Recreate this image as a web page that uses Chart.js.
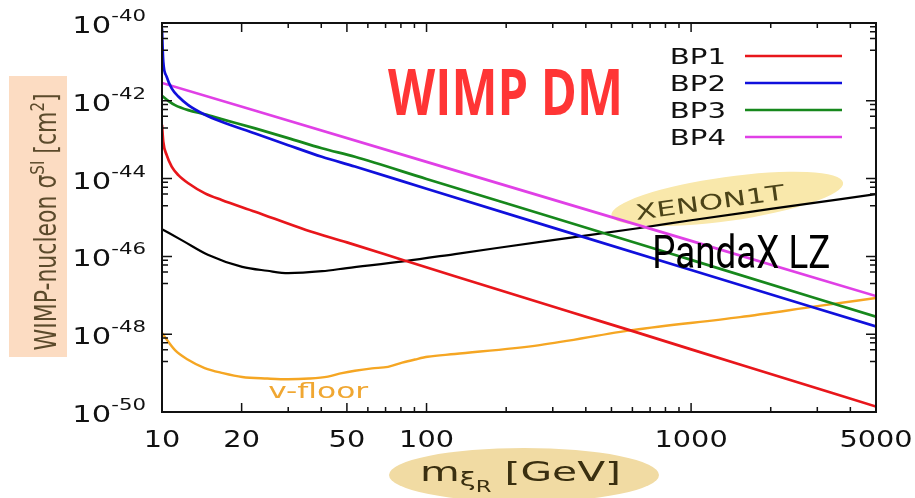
<!DOCTYPE html>
<html>
<head>
<meta charset="utf-8">
<script src="https://cdn.jsdelivr.net/npm/chart.js@4.4.1/dist/chart.umd.min.js"></script>
<style>
    html, body { margin: 0; padding: 0; background: #fff; }
</style>
</head>
<body>
<canvas id="limitChart" width="915" height="498"></canvas>
<script>
// WIMP mass in GeV, spin-independent cross section in cm^2
const bp1Mass = [10, 10.11, 10.41, 10.88, 11.53, 12.57, 14.54, 16.8, 22.5, 35, 50, 83, 128, 350, 606, 1530, 5000];
const bp1Sigma = [2.40e-43, 8.91e-44, 4.07e-44, 2.04e-44, 1.23e-44, 7.59e-45, 4.17e-45, 2.82e-45, 1.41e-45, 4.79e-46, 2.29e-46, 7.76e-47, 3.09e-47, 3.72e-48, 1.18e-48, 1.66e-49, 1.38e-50];

const bp2Mass = [10, 10.05, 10.11, 10.41, 10.88, 11.53, 12.57, 14.54, 16.8, 22.5, 30, 40.2, 53.6, 100, 300, 1000, 5000];
const bp2Sigma = [7.24e-41, 2.51e-41, 1.02e-41, 4.17e-42, 2.09e-42, 1.29e-42, 7.76e-43, 4.37e-43, 2.88e-43, 1.45e-43, 7.24e-44, 3.63e-44, 2.04e-44, 5.50e-45, 5.50e-46, 4.47e-47, 1.58e-48];

const bp3Mass = [10, 10.56, 11.2, 12.57, 14.54, 16.8, 22.5, 30, 40.2, 53.6, 100, 300, 1000, 5000];
const bp3Sigma = [1.35e-42, 1.00e-42, 7.76e-43, 5.75e-43, 4.47e-43, 3.39e-43, 1.95e-43, 1.10e-43, 6.03e-44, 3.63e-44, 9.77e-45, 1.00e-45, 8.13e-47, 2.82e-48];

const bp4Mass = [10, 100, 1000, 5000];
const bp4Sigma = [2.88e-42, 2.69e-44, 2.51e-46, 9.55e-48];

const xenonMass = [10, 12, 14.9, 20.1, 25, 30, 40.3, 50, 83, 128, 300, 640, 1000, 2000, 5000];
const xenonSigma = [5.01e-46, 2.51e-46, 1.10e-46, 5.37e-47, 4.27e-47, 3.72e-47, 4.17e-47, 5.01e-47, 7.59e-47, 1.15e-46, 2.63e-46, 5.37e-46, 8.51e-46, 1.66e-45, 3.98e-45];

const floorMass = [10, 11.2, 12.5, 14.5, 17, 20.1, 25, 30, 36, 42.4, 47.9, 53.6, 62.2, 71.5, 80.9, 90.5, 101, 128, 268, 606, 1530, 3000, 5000];
const floorSigma = [1.07e-48, 3.89e-49, 2.24e-49, 1.35e-49, 1.00e-49, 7.94e-50, 7.24e-50, 6.92e-50, 7.24e-50, 8.13e-50, 1.00e-49, 1.15e-49, 1.32e-49, 1.45e-49, 1.86e-49, 2.24e-49, 2.63e-49, 3.09e-49, 5.25e-49, 1.29e-48, 2.75e-48, 5.25e-48, 8.51e-48];

const legendNames = ["BP1", "BP2", "BP3", "BP4"];
const xTickValues = [10, 20, 50, 100, 1000, 5000];
const xTickLabels = ["10", "20", "50", "100", "1000", "5000"];
const xMinorTicks = [30, 40, 60, 70, 80, 90, 200, 300, 400, 500, 600, 700, 800, 900, 2000, 3000, 4000];
const yTickExponents = [-40, -42, -44, -46, -48, -50];
const yMinorFactors = [2, 4, 6, 8];

const lineColors = ["#e8161b", "#1010dc", "#17881c", "#e040e6"];
const gnuFont = "'DejaVu Sans'";
const stretch = 1.33; // reference picture is widened horizontally

function toPoints(mass, sigma) {
    return mass.map((m, i) => ({ x: m, y: sigma[i] }));
}

function makeSet(label, mass, sigma, color, width) {
    return {
        label: label,
        data: toPoints(mass, sigma),
        borderColor: color,
        backgroundColor: color,
        borderWidth: width,
        pointRadius: 0,
        fill: false,
        cubicInterpolationMode: "monotone",
    };
}

// draws text squeezed or widened along x, returns drawn width
function wideText(ctx, text, x, y, sx, align) {
    const w = ctx.measureText(text).width * sx;
    let left = x;
    if (align === "right") left = x - w;
    if (align === "center") left = x - w / 2;
    ctx.save();
    ctx.translate(left, y);
    ctx.scale(sx, 1);
    ctx.textAlign = "left";
    ctx.fillText(text, 0, 0);
    ctx.restore();
    return w;
}

function fitText(ctx, text, x, y, width) {
    const sx = width / ctx.measureText(text).width;
    return wideText(ctx, text, x, y, sx, "left");
}

const decorations = {
    id: "decorations",
    beforeDatasetsDraw(chart) {
        const ctx = chart.ctx;
        const xs = chart.scales.x, ys = chart.scales.y;
        ctx.save();
        // y title box
        ctx.fillStyle = "#fcdcc2";
        ctx.fillRect(9, 76, 58, 281);
        // x title ellipse
        ctx.fillStyle = "#f1dba3";
        ctx.beginPath();
        ctx.ellipse(524, 475, 135, 27, 0, 0, Math.PI * 2);
        ctx.fill();
        // XENON1T highlight
        ctx.fillStyle = "#f9e8ab";
        ctx.beginPath();
        ctx.ellipse(xs.getPixelForValue(1370), ys.getPixelForValue(3.0e-45), 117, 22, -8 * Math.PI / 180, 0, Math.PI * 2);
        ctx.fill();
        ctx.restore();
    },
    afterDatasetsDraw(chart) {
        const ctx = chart.ctx;
        const area = chart.chartArea;
        const xs = chart.scales.x, ys = chart.scales.y;
        ctx.save();

        // frame
        ctx.strokeStyle = "#111";
        ctx.lineWidth = 2;
        ctx.strokeRect(area.left, area.top, area.right - area.left, area.bottom - area.top);

        // ticks
        ctx.lineWidth = 1.5;
        ctx.beginPath();
        const xTick = (v, len) => {
            const px = xs.getPixelForValue(v);
            ctx.moveTo(px, area.bottom); ctx.lineTo(px, area.bottom - len);
            ctx.moveTo(px, area.top); ctx.lineTo(px, area.top + len);
        };
        const yTick = (v, len) => {
            const py = ys.getPixelForValue(v);
            ctx.moveTo(area.left, py); ctx.lineTo(area.left + len, py);
            ctx.moveTo(area.right, py); ctx.lineTo(area.right - len, py);
        };
        xTickValues.forEach(v => xTick(v, 9));
        xMinorTicks.forEach(v => xTick(v, 5));
        yTickExponents.forEach(e => {
            yTick(Math.pow(10, e), 10);
            if (e > -50) yMinorFactors.forEach(f => yTick(f * Math.pow(10, e - 1), 6));
        });
        ctx.stroke();

        // tick labels
        ctx.fillStyle = "#111";
        ctx.textBaseline = "alphabetic";
        ctx.font = "23px " + gnuFont;
        xTickValues.forEach((v, i) => {
            wideText(ctx, xTickLabels[i], xs.getPixelForValue(v), 447, 1.25, "center");
        });
        yTickExponents.forEach(e => {
            const py = ys.getPixelForValue(Math.pow(10, e));
            const exp = "-" + Math.abs(e);
            ctx.font = "16px " + gnuFont;
            const wExp = ctx.measureText(exp).width * stretch;
            ctx.font = "23px " + gnuFont;
            const wBase = ctx.measureText("10").width * stretch;
            const right = area.left - 16;
            wideText(ctx, "10", right - wExp - wBase, py + 10, stretch, "left");
            ctx.font = "16px " + gnuFont;
            wideText(ctx, exp, right - wExp, py - 2, stretch, "left");
        });

        // legend
        ctx.font = "22px " + gnuFont;
        legendNames.forEach((name, i) => {
            const rowY = 56 + i * 27;
            ctx.fillStyle = "#111";
            wideText(ctx, name, 726, rowY + 8, stretch, "right");
            ctx.strokeStyle = lineColors[i];
            ctx.lineWidth = 2.5;
            ctx.beginPath();
            ctx.moveTo(745, rowY);
            ctx.lineTo(842, rowY);
            ctx.stroke();
        });

        // y axis title, rotated, with superscripts
        ctx.save();
        ctx.fillStyle = "#5b4a2b";
        ctx.translate(56, 222);
        ctx.rotate(-Math.PI / 2);
        ctx.scale(1, stretch);
        const parts = [
            { t: "WIMP-nucleon \u03c3", s: 22, dy: 0 },
            { t: "SI", s: 15, dy: -9 },
            { t: " [cm", s: 22, dy: 0 },
            { t: "2", s: 15, dy: -9 },
            { t: "]", s: 22, dy: 0 },
        ];
        let total = 0;
        parts.forEach(p => { ctx.font = p.s + "px " + gnuFont; p.w = ctx.measureText(p.t).width; total += p.w; });
        let cx = -total / 2;
        ctx.textAlign = "left";
        parts.forEach(p => { ctx.font = p.s + "px " + gnuFont; ctx.fillText(p.t, cx, p.dy); cx += p.w; });
        ctx.restore();

        // x axis title with nested subscripts
        ctx.save();
        ctx.fillStyle = "#3a2f10";
        const xparts = [
            { t: "m", s: 27, dy: 0 },
            { t: "\u03be", s: 19, dy: 5 },
            { t: "R", s: 15, dy: 11 },
            { t: " [GeV]", s: 27, dy: 0 },
        ];
        let xtotal = 0;
        xparts.forEach(p => { ctx.font = p.s + "px " + gnuFont; p.w = ctx.measureText(p.t).width; xtotal += p.w; });
        const xsx = 201 / xtotal;
        let px = 420;
        xparts.forEach(p => { ctx.font = p.s + "px " + gnuFont; wideText(ctx, p.t, px, 481 + p.dy, xsx, "left"); px += p.w * xsx; });
        ctx.restore();

        // curve labels
        ctx.fillStyle = "#f0a732";
        ctx.font = "21px " + gnuFont;
        fitText(ctx, "v-floor", xs.getPixelForValue(25.2), ys.getPixelForValue(2.3e-50), 100);

        ctx.save();
        ctx.fillStyle = "#4b4318";
        ctx.font = "21px " + gnuFont;
        ctx.translate(xs.getPixelForValue(1180), ys.getPixelForValue(2.2e-45));
        ctx.rotate(-8 * Math.PI / 180);
        const xw = ctx.measureText("XENON1T").width;
        ctx.scale(150 / xw, 1);
        ctx.textAlign = "center";
        ctx.textBaseline = "middle";
        ctx.fillText("XENON1T", 0, 0);
        ctx.restore();

        ctx.fillStyle = "#000";
        ctx.font = "46px Roboto";
        fitText(ctx, "PandaX LZ", xs.getPixelForValue(713), ys.getPixelForValue(5.0e-47), 178);

        ctx.fillStyle = "#ff3535";
        ctx.font = "bold 65px 'Open Sans'";
        fitText(ctx, "WIMP DM", xs.getPixelForValue(71.5), ys.getPixelForValue(4.3e-43), 235);

        ctx.restore();
    },
};

new Chart(document.getElementById("limitChart"), {
    type: "line",
    data: {
        datasets: [
            makeSet("BP1", bp1Mass, bp1Sigma, lineColors[0], 2.7),
            makeSet("BP2", bp2Mass, bp2Sigma, lineColors[1], 2.7),
            makeSet("BP3", bp3Mass, bp3Sigma, lineColors[2], 2.7),
            makeSet("BP4", bp4Mass, bp4Sigma, lineColors[3], 2.7),
            makeSet("XENON1T", xenonMass, xenonSigma, "#000000", 2.2),
            makeSet("v-floor", floorMass, floorSigma, "#f5a623", 2.4),
        ],
    },
    options: {
        responsive: false,
        animation: false,
        layout: { padding: { left: 162, right: 39, top: 23, bottom: 86 } },
        scales: {
            x: { type: "logarithmic", min: 10, max: 5000, display: false },
            y: { type: "logarithmic", min: 1e-50, max: 1e-40, display: false },
        },
        plugins: {
            legend: { display: false },
            tooltip: { enabled: false },
        },
    },
    plugins: [decorations],
});
</script>
</body>
</html>
